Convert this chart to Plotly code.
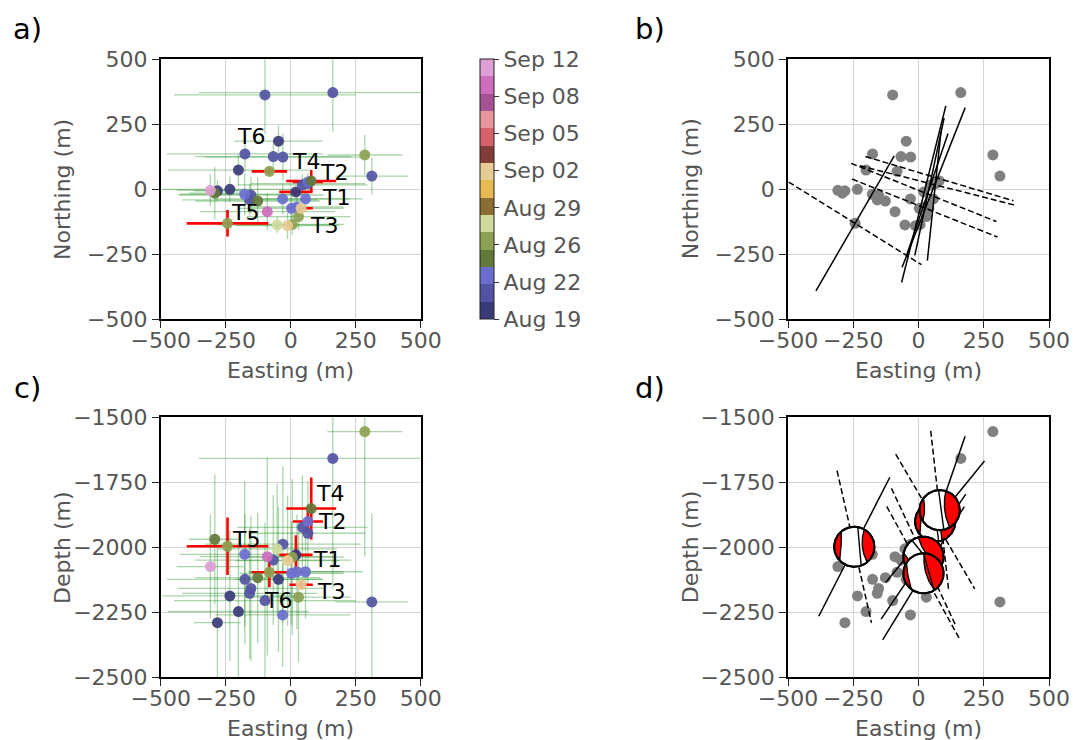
import numpy as np
import plotly.graph_objects as go

W, H = 1073, 740
FONT = "DejaVu Sans"
TXT = "#555555"

# ---------------- relocated event catalogue ----------------
# easting / northing / depth in metres, origin time in days after 19 Aug
east = [-47, -201, 20, -234, -282,
        -99, 162, -176, -67, -30, 312, 45, 66, -153, -158,
        66, -177, -31, 57, 3, 24,
        79, -292, -127,
        285, -82, -243, 30, 6,
        -52,
        40, -12,
        -90,
        -309]
north = [185, 74, -10, 0, -6,
         363, 372, 136, 126, 124, 51, 17, 22, -22, -41,
         28, -19, -37, -37, -73, -68,
         32, -15, -45,
         132, 69, -131, -105, -135,
         -137,
         -73, -140,
         -86,
         -4]
depth = [-2123, -2247, -2029, -2187, -2290,
         -2205, -1658, -2123, -2049, -1988, -2210, -1923, -1946, -2158, -2177,
         -1901, -2027, -2260, -2094, -2100, -2094,
         -1851, -1969, -2117,
         -1555, -2096, -1996, -2192, -2038,
         -2006,
         -2144, -2051,
         -2036,
         -2074]
days = [0.8, 0.8, 0.8, 0.8, 0.8,
        2.4, 2.4, 2.4, 2.4, 2.4, 2.4, 2.4, 2.4, 2.4, 2.4,
        4.0, 4.0, 4.0, 4.0, 4.0, 4.0,
        5.6, 5.6, 5.6,
        7.2, 7.2, 7.2, 7.2, 7.2,
        8.8,
        13.6, 13.6,
        21.6,
        23.2]
err_east = [170, 270, 64, 260, 90,
            350, 515, 300, 300, 300, 140, 250, 220, 280, 260,
            58, 250, 260, 220, 200, 180,
            96, 100, 240,
            144, 68, 157, 200, 200,
            230,
            45, 200,
            260,
            130]
err_north = [60, 60, 10, 50, 40,
             150, 150, 70, 50, 90, 70, 40, 40, 70, 60,
             15, 80, 60, 50, 60, 50,
             42, 100, 90,
             77, 12, 51, 50, 40,
             30,
             8, 50,
             70,
             60]
err_depth = [280, 250, 75, 250, 300,
             300, 500, 250, 250, 300, 340, 200, 200, 280, 250,
             42, 280, 200, 180, 200, 220,
             119, 250, 250,
             480, 58, 111, 250, 300,
             250,
             15, 250,
             380,
             200]
template = ["", "", "T1", "", "",
            "", "", "", "", "", "", "", "", "", "",
            "T2", "", "", "", "", "",
            "T4", "", "",
            "", "T6", "T5", "", "",
            "",
            "T3", "",
            "",
            ""]

# label offsets (pixels right, pixels up) for the template names
label_shift_map = {"T1": (40, -6), "T2": (26, 10), "T3": (23, -17),
                   "T4": (-5, 19), "T5": (17, 11), "T6": (-18, 35)}
label_shift_sec = {"T1": (31, -5), "T2": (24, 0), "T3": (30, -7),
                   "T4": (19, 15), "T5": (18, 7), "T6": (9, -28)}

# ---------------- colour scale (time) ----------------
band_colors = ["#393b79", "#5254a3", "#6b6ecf", "#637939", "#8ca252",
               "#cedb9c", "#8c6d31", "#e7ba52", "#e7cb94", "#843c39",
               "#d6616b", "#e7969c", "#a55194", "#ce6dbd", "#de9ed6"]
day_min, day_max = 0.0, 24.0
cbar_tick_days = [0.0, 3.43, 6.86, 10.29, 13.71, 17.14, 20.57, 24.0]
cbar_tick_text = ["Aug 19", "Aug 22", "Aug 26", "Aug 29",
                  "Sep 02", "Sep 05", "Sep 08", "Sep 12"]

# ---------------- nodal-plane traces, map view ----------------
# centre easting/northing (m), azimuth (deg from north), half length (m)
np1_e = [-243, 20, 58, 33, 42, 60]
np1_n = [-131, -19, 7, -22, 10, -26]
np1_az = [30, 14, 21.5, 18.7, 12, 6]
np1_half = [300, 350, 330, 250, 270, 250]

np2_e = [-243, 80, 72, 20, 24]
np2_n = [-131, 41, 15, -12, -72]
np2_az = [122, 106.7, 104.3, 111.9, 111.8]
np2_half = [300, 296, 306, 300, 300]

# ---------------- focal mechanisms, E-W section ----------------
fm_east = [64, 81, 19, 19, -246]
fm_depth = [-1901, -1857, -2036, -2100, -1998]
fm_ang1 = [51, 71, 56, 58.6, 63]          # solid trace, deg from +east
fm_half1 = [300, 300, 290, 300, 300]
fm_ang2 = [-59.7, -83.6, -65, -61.3, -77.3]  # dashed trace
fm_half2 = [300, 307, 290, 293, 300]
fm_rot = [0, 0, 30, 8, 0]
fm_cres = [(140, 220, 0.72), (144, 213, 0.75), (140, 215, 0.72), (140, 225, 0.78), (130, 223, 0.66)]
fm_lune = [(62, -70, 0.28), (72, -60, 0.25), (75, -60, 0.2), (80, -65, 0.12), (60, -50, 0.4)]
fm_node = [(95, -80), (93, -78), (95, -78), (82, -66), (80, -70)]
BALL_R = 77

# ---------------- panel boxes (pixels) ----------------
PX = {"a": (160.7, 420.7, 59.3, 319.3), "b": (788.0, 1049.0, 59.3, 319.3),
      "c": (160.7, 420.7, 417.3, 677.3), "d": (788.0, 1049.0, 417.3, 677.3)}


def xdom(p):
    return [PX[p][0] / W, PX[p][1] / W]


def ydom(p):
    return [1 - PX[p][3] / H, 1 - PX[p][2] / H]


E = np.array(east, float)
N = np.array(north, float)
D = np.array(depth, float)
T = np.array(days, float)
eE = np.array(err_east, float)
eN = np.array(err_north, float)
eD = np.array(err_depth, float)
is_t = np.array([t != "" for t in template])
plain = ~is_t

colorscale = []
nb = len(band_colors)
for i, c in enumerate(band_colors):
    colorscale.append([i / nb, c])
    colorscale.append([(i + 1) / nb, c])

GREEN = "rgba(20,140,20,0.36)"
fig = go.Figure()


def err_traces(yv, ey, xa, ya, with_bar):
    out = []
    out.append(go.Scatter(
        x=E[plain], y=yv[plain], mode="markers", xaxis=xa, yaxis=ya,
        marker=dict(size=2, opacity=0), showlegend=False, hoverinfo="skip",
        error_x=dict(type="data", array=eE[plain], color=GREEN, thickness=1.3, width=0),
        error_y=dict(type="data", array=ey[plain], color=GREEN, thickness=1.3, width=0)))
    out.append(go.Scatter(
        x=E[is_t], y=yv[is_t], mode="markers", xaxis=xa, yaxis=ya,
        marker=dict(size=2, opacity=0), showlegend=False, hoverinfo="skip",
        error_x=dict(type="data", array=eE[is_t], color="red", thickness=2.6, width=0),
        error_y=dict(type="data", array=ey[is_t], color="red", thickness=2.6, width=0)))
    mk = dict(size=11, color=T, colorscale=colorscale, cmin=day_min, cmax=day_max,
              opacity=0.92, line=dict(width=0))
    if with_bar:
        mk.update(showscale=True, colorbar=dict(
            x=480 / W, xanchor="left", xref="paper",
            y=1 - 189.3 / H, yanchor="middle", yref="paper",
            len=260 / H, lenmode="fraction", thickness=14, thicknessmode="pixels",
            xpad=0, ypad=0, outlinewidth=1, outlinecolor="#222",
            tickvals=cbar_tick_days, ticktext=cbar_tick_text, ticks="outside",
            ticklen=5, tickwidth=1, tickcolor="#333",
            tickfont=dict(family=FONT, size=22, color=TXT)))
    else:
        mk.update(showscale=False)
    out.append(go.Scatter(x=E, y=yv, mode="markers", xaxis=xa, yaxis=ya,
                          marker=mk, showlegend=False))
    return out


for tr in err_traces(N, eN, "x", "y", True):
    fig.add_trace(tr)
for tr in err_traces(D, eD, "x3", "y3", False):
    fig.add_trace(tr)

# ---------------- panel b: map view with nodal traces ----------------
fig.add_trace(go.Scatter(x=E, y=N, mode="markers", xaxis="x2", yaxis="y2",
                         marker=dict(size=11, color="#808080"), showlegend=False))


def seg_xy(ce, cn, dx, dy):
    xs, ys = [], []
    for a, b, u, v in zip(ce, cn, dx, dy):
        xs += [a - u, a + u, None]
        ys += [b - v, b + v, None]
    return xs, ys


az1 = np.radians(np1_az)
x1, y1 = seg_xy(np1_e, np1_n, np.sin(az1) * np.array(np1_half), np.cos(az1) * np.array(np1_half))
az2 = np.radians(np2_az)
x2, y2 = seg_xy(np2_e, np2_n, np.sin(az2) * np.array(np2_half), np.cos(az2) * np.array(np2_half))
fig.add_trace(go.Scatter(x=x1, y=y1, mode="lines", xaxis="x2", yaxis="y2",
                         line=dict(color="black", width=1.5), showlegend=False))
fig.add_trace(go.Scatter(x=x2, y=y2, mode="lines", xaxis="x2", yaxis="y2",
                         line=dict(color="black", width=1.5, dash="6px,3px"), showlegend=False))

# ---------------- panel d: section with focal mechanisms ----------------
fig.add_trace(go.Scatter(x=E, y=D, mode="markers", xaxis="x4", yaxis="y4",
                         marker=dict(size=11, color="#808080"), showlegend=False))
a1 = np.radians(fm_ang1)
sx1, sy1 = seg_xy(fm_east, fm_depth, np.cos(a1) * np.array(fm_half1), np.sin(a1) * np.array(fm_half1))
a2 = np.radians(fm_ang2)
sx2, sy2 = seg_xy(fm_east, fm_depth, np.cos(a2) * np.array(fm_half2), np.sin(a2) * np.array(fm_half2))
fig.add_trace(go.Scatter(x=sx1, y=sy1, mode="lines", xaxis="x4", yaxis="y4",
                         line=dict(color="black", width=1.5), showlegend=False))
fig.add_trace(go.Scatter(x=sx2, y=sy2, mode="lines", xaxis="x4", yaxis="y4",
                         line=dict(color="black", width=1.5, dash="6px,3px"), showlegend=False))


def lobe(a_start, a_end, mid_frac, n=48):
    t = np.radians(np.linspace(a_start, a_end, n))
    au, av = np.cos(t), np.sin(t)
    p0 = np.array([au[-1], av[-1]])
    p1 = np.array([au[0], av[0]])
    m = np.radians((a_start + a_end) / 2)
    mid = mid_frac * np.array([np.cos(m), np.sin(m)])
    ctrl = 2 * mid - 0.5 * (p0 + p1)
    s = np.linspace(0, 1, n)[:, None]
    bz = (1 - s) ** 2 * p0 + 2 * (1 - s) * s * ctrl + s ** 2 * p1
    return np.concatenate([au, bz[:, 0]]), np.concatenate([av, bz[:, 1]])


def place(u, v, cx, cy, rot):
    r = np.radians(rot)
    return (cx + BALL_R * (u * np.cos(r) - v * np.sin(r)),
            cy + BALL_R * (u * np.sin(r) + v * np.cos(r)))


tt = np.linspace(0, 2 * np.pi, 121)
for cx, cy, rot, cres, lune, node in zip(fm_east, fm_depth, fm_rot, fm_cres, fm_lune, fm_node):
    bx, by = place(np.cos(tt), np.sin(tt), cx, cy, rot)
    fig.add_trace(go.Scatter(x=bx, y=by, mode="lines", fill="toself", fillcolor="white",
                             line=dict(color="black", width=2), xaxis="x4", yaxis="y4",
                             showlegend=False, hoverinfo="skip"))
    for a_s, a_e, mf in (cres, lune):
        u, v = lobe(a_s, a_e, mf)
        px_, py_ = place(u, v, cx, cy, rot)
        fig.add_trace(go.Scatter(x=px_, y=py_, mode="lines", fill="toself", fillcolor="red",
                                 line=dict(color="black", width=1.4), xaxis="x4", yaxis="y4",
                                 showlegend=False, hoverinfo="skip"))
    nu = np.cos(np.radians(node))
    nv = np.sin(np.radians(node))
    lx, ly = place(nu, nv, cx, cy, rot)
    fig.add_trace(go.Scatter(x=lx, y=ly, mode="lines", line=dict(color="black", width=1.4),
                             xaxis="x4", yaxis="y4", showlegend=False, hoverinfo="skip"))
    fig.add_trace(go.Scatter(x=bx, y=by, mode="lines", line=dict(color="black", width=2),
                             xaxis="x4", yaxis="y4", showlegend=False, hoverinfo="skip"))

# ---------------- axes ----------------
map_ticks = [-500, -250, 0, 250, 500]
map_text = ["\u2212500", "\u2212250", "0", "250", "500"]
dep_ticks = [-2500, -2250, -2000, -1750, -1500]
dep_text = ["\u22122500", "\u22122250", "\u22122000", "\u22121750", "\u22121500"]


def axis(dom, rng, tv, tx, anchor, standoff=0):
    return dict(domain=dom, range=rng, tickvals=tv, ticktext=tx, anchor=anchor,
                automargin=False, tickangle=0, ticklabelstandoff=standoff,
                ticks="outside", ticklen=7, tickwidth=1.3, tickcolor="#222",
                showline=True, linecolor="black", linewidth=1.5, mirror=True,
                showgrid=True, gridcolor="#d4d4d4", gridwidth=1, zeroline=False,
                tickfont=dict(family=FONT, size=22, color=TXT))


XS = -6
layout = dict(
    width=W, height=H, autosize=False,
    margin=dict(l=0, r=0, t=0, b=0, pad=0),
    paper_bgcolor="white", plot_bgcolor="white", showlegend=False,
    xaxis=axis(xdom("a"), [-500, 500], map_ticks, map_text, "y", XS),
    yaxis=axis(ydom("a"), [-500, 500], map_ticks, map_text, "x"),
    xaxis2=axis(xdom("b"), [-500, 500], map_ticks, map_text, "y2", XS),
    yaxis2=axis(ydom("b"), [-500, 500], map_ticks, map_text, "x2"),
    xaxis3=axis(xdom("c"), [-500, 500], map_ticks, map_text, "y3", XS),
    yaxis3=axis(ydom("c"), [-2500, -1500], dep_ticks, dep_text, "x3"),
    xaxis4=axis(xdom("d"), [-500, 500], map_ticks, map_text, "y4", XS),
    yaxis4=axis(ydom("d"), [-2500, -1500], dep_ticks, dep_text, "x4"),
)
fig.update_layout(**layout)

ann = []
title_font = dict(family=FONT, size=22, color=TXT)
for p, ylab in (("a", "Northing (m)"), ("b", "Northing (m)"), ("c", "Depth (m)"), ("d", "Depth (m)")):
    x0, x1_, y0, y1_ = PX[p]
    ann.append(dict(text="Easting (m)", x=(x0 + x1_) / 2 / W, y=1 - (y1_ + 51) / H,
                    xref="paper", yref="paper", showarrow=False, font=title_font,
                    xanchor="center", yanchor="middle"))
    ann.append(dict(text=ylab, x=(x0 - 98) / W, y=1 - (y0 + y1_) / 2 / H,
                    xref="paper", yref="paper", showarrow=False, font=title_font,
                    textangle=-90, xanchor="center", yanchor="middle"))
for lab, lx, ly in (("a)", 27, 29), ("b)", 650, 29), ("c)", 27, 388), ("d)", 650, 388)):
    ann.append(dict(text=lab, x=lx / W, y=1 - ly / H, xref="paper", yref="paper",
                    showarrow=False, font=dict(family=FONT, size=29, color="black"),
                    xanchor="center", yanchor="middle"))

for i, name in enumerate(template):
    if not name:
        continue
    dx, dy = label_shift_map[name]
    ann.append(dict(text=name, x=east[i], y=north[i], xref="x", yref="y",
                    xshift=dx, yshift=dy, showarrow=False,
                    font=dict(family=FONT, size=22, color="black")))
    dx, dy = label_shift_sec[name]
    ann.append(dict(text=name, x=east[i], y=depth[i], xref="x3", yref="y3",
                    xshift=dx, yshift=dy, showarrow=False,
                    font=dict(family=FONT, size=22, color="black")))

fig.update_layout(annotations=ann)
fig.write_html("out.html")
